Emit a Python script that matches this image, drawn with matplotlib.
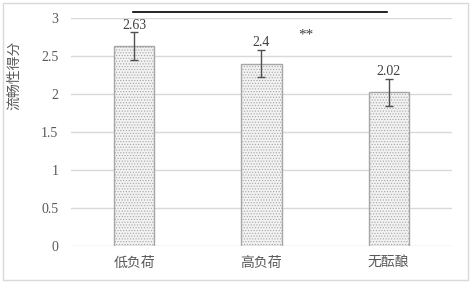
import matplotlib
matplotlib.use("Agg")
import matplotlib.pyplot as plt
from matplotlib.patches import Rectangle

plt.rcParams['font.family'] = ['Liberation Serif', 'Noto Sans CJK SC']
plt.rcParams['hatch.color'] = '#c4c4c4'
plt.rcParams['hatch.linewidth'] = 0.5

categories = ['低负荷', '高负荷', '无酝酿']
values = [2.63, 2.4, 2.02]
errors = [0.18, 0.18, 0.18]
value_labels = ['2.63', '2.4', '2.02']
yticks = [0, 0.5, 1, 1.5, 2, 2.5, 3]
ytick_labels = ['0', '0.5', '1', '1.5', '2', '2.5', '3']
sig_text = '**'

fig = plt.figure(figsize=(4.71, 2.83), dpi=100)
ax = fig.add_axes([0.1507, 0.1307, 0.8090, 0.8057])

x = [0.5, 1.5, 2.5]
ax.bar(x, values, width=0.315, color='#f2f2f2', edgecolor='#a6a6a6',
       linewidth=1.0, hatch='......', zorder=2)
ax.errorbar(x, values, yerr=errors, fmt='none', ecolor='#505050',
            elinewidth=1.0, capsize=3, capthick=1.0, zorder=3)
for xi, v, e, lab in zip(x, values, errors, value_labels):
    ax.text(xi, v + e + 0.01, lab, ha='center', va='bottom', fontsize=10, color='#404040')

ax.set_xlim(0, 3)
ax.set_ylim(0, 3)
ax.set_yticks(yticks)
ax.set_yticklabels(ytick_labels, fontsize=10, color='#595959')
ax.set_xticks(x)
ax.set_xticklabels(categories, fontsize=10, color='#595959')
ax.tick_params(axis='x', length=0, pad=8)
ax.tick_params(axis='y', length=0, pad=9)
ax.grid(axis='y', color='#d9d9d9', linewidth=1.0, zorder=0)
ax.set_axisbelow(True)
for s in ax.spines.values():
    s.set_visible(False)

# significance line
ax.plot([0.49, 2.49], [3.08, 3.08], color='black', linewidth=1.2, clip_on=False)
ax.text(1.85, 2.77, sig_text, ha='center', va='center', fontsize=11, color='#404040')

fig.text(0.032, 0.735, '流畅性得分', rotation=90, ha='center', va='center',
         fontsize=10, color='#595959')

fig.patches.append(Rectangle((0.006, 0.01), 0.988, 0.98, transform=fig.transFigure,
                             fill=False, edgecolor='#d9d9d9', linewidth=1.0))

fig.savefig('out.png', dpi=100)
